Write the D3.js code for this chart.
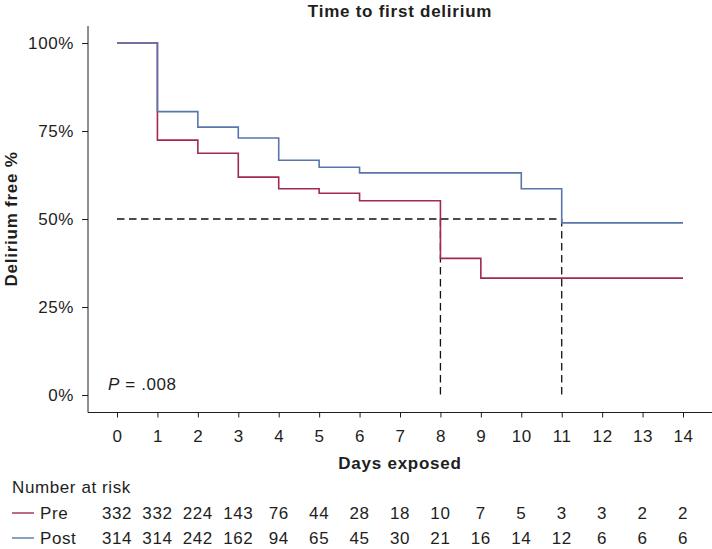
<!DOCTYPE html>
<html>
<head>
<meta charset="utf-8">
<script src="https://cdn.jsdelivr.net/npm/d3@7"></script>
<style>
  body { margin: 0; background: #fff; }
  svg { display: block; font-family: "Liberation Sans", Arial, sans-serif; }
</style>
</head>
<body>
<svg id="chart" width="712" height="549"></svg>
<script>
// days on x axis
const days = [0, 1, 2, 3, 4, 5, 6, 7, 8, 9, 10, 11, 12, 13, 14];
// survival (delirium free) per day, step after each day
const preSurv = [1.0, 0.724, 0.687, 0.619, 0.586, 0.573, 0.552, 0.552, 0.388, 0.332, 0.332, 0.332, 0.332, 0.332, 0.332];
const postSurv = [1.0, 0.805, 0.761, 0.730, 0.667, 0.647, 0.631, 0.631, 0.631, 0.631, 0.586, 0.489, 0.489, 0.489, 0.489];
const preRisk = [332, 332, 224, 143, 76, 44, 28, 18, 10, 7, 5, 3, 3, 2, 2];
const postRisk = [314, 314, 242, 162, 94, 65, 45, 30, 21, 16, 14, 12, 6, 6, 6];
const yTicks = [0, 0.25, 0.5, 0.75, 1];
const medians = [8, 11];

const preColor = "#a22a52";
const postColor = "#5876ab";
const ink = "#1e1e1e";
const fs = 17;
const ls = 0.6;   // regular letter spacing
const lsb = 0.75; // bold letter spacing

const svg = d3.select("#chart");

const x = d3.scaleLinear().domain([0, 14]).range([117, 683]);
const y = d3.scaleLinear().domain([0, 1]).range([395, 43]);

// title
svg.append("text")
  .attr("x", 400).attr("y", 17)
  .attr("text-anchor", "middle")
  .attr("font-size", fs).attr("font-weight", "bold")
  .attr("letter-spacing", lsb)
  .attr("fill", ink)
  .text("Time to first delirium");

// y axis
const yAxis = svg.append("g")
  .attr("transform", "translate(88,0)")
  .call(d3.axisLeft(y).tickValues(yTicks).tickFormat(d3.format(".0%")).tickSize(6).tickPadding(8));
yAxis.select(".domain").attr("d", "M0,26V412.5");
yAxis.selectAll("text").attr("font-size", fs).attr("letter-spacing", ls).attr("fill", ink)
  .attr("font-family", "Liberation Sans, Arial, sans-serif");
yAxis.selectAll("line, path").attr("stroke", ink);

// x axis
const xAxis = svg.append("g")
  .attr("transform", "translate(0,412.5)")
  .call(d3.axisBottom(x).tickValues(days).tickSize(5).tickPadding(12));
xAxis.select(".domain").attr("d", "M88,0H712");
xAxis.selectAll("text").attr("font-size", fs).attr("letter-spacing", ls).attr("fill", ink)
  .attr("font-family", "Liberation Sans, Arial, sans-serif");
xAxis.selectAll("line, path").attr("stroke", ink);

svg.append("text")
  .attr("x", 400).attr("y", 469)
  .attr("text-anchor", "middle")
  .attr("font-size", fs).attr("font-weight", "bold")
  .attr("letter-spacing", lsb)
  .attr("fill", ink)
  .text("Days exposed");

svg.append("text")
  .attr("transform", "translate(17,219) rotate(-90)")
  .attr("text-anchor", "middle")
  .attr("font-size", fs).attr("font-weight", "bold")
  .attr("letter-spacing", lsb)
  .attr("fill", ink)
  .text("Delirium free %");

// dashed median lines
const dash = svg.append("g")
  .attr("stroke", "#111").attr("stroke-width", 1.3)
  .attr("stroke-dasharray", "7.5,4.5").attr("fill", "none");
dash.append("line")
  .attr("x1", x(0)).attr("x2", x(d3.max(medians)))
  .attr("y1", y(0.5)).attr("y2", y(0.5));
dash.selectAll("line.v")
  .data(medians)
  .join("line")
  .attr("class", "v")
  .attr("x1", d => x(d)).attr("x2", d => x(d))
  .attr("y1", y(0.5)).attr("y2", y(0));

// step curves
const line = d3.line()
  .x((d, i) => x(days[i]))
  .y(d => y(d))
  .curve(d3.curveStepAfter);

svg.append("path")
  .datum(preSurv)
  .attr("d", line)
  .attr("fill", "none")
  .attr("stroke", preColor)
  .attr("stroke-width", 1.6);

svg.append("path")
  .datum(postSurv)
  .attr("d", line)
  .attr("fill", "none")
  .attr("stroke", postColor)
  .attr("stroke-width", 1.6);

// p value
const pv = svg.append("text")
  .attr("x", 108).attr("y", 390)
  .attr("font-size", fs).attr("letter-spacing", ls).attr("fill", ink);
pv.append("tspan").attr("font-style", "italic").text("P");
pv.append("tspan").text(" = .008");

// number at risk table
svg.append("text")
  .attr("x", 12).attr("y", 493)
  .attr("font-size", fs).attr("letter-spacing", ls).attr("fill", ink)
  .text("Number at risk");

const rows = [
  { name: "Pre", color: preColor, values: preRisk, y: 519 },
  { name: "Post", color: postColor, values: postRisk, y: 544 }
];

rows.forEach(r => {
  svg.append("line")
    .attr("x1", 12).attr("x2", 34)
    .attr("y1", r.y - 6).attr("y2", r.y - 6)
    .attr("stroke", r.color).attr("stroke-width", 1.4);
  svg.append("text")
    .attr("x", 40).attr("y", r.y)
    .attr("font-size", fs).attr("letter-spacing", ls).attr("fill", ink)
    .text(r.name);
  svg.selectAll(null)
    .data(r.values)
    .join("text")
    .attr("x", (d, i) => x(days[i]))
    .attr("y", r.y)
    .attr("text-anchor", "middle")
    .attr("font-size", fs).attr("letter-spacing", ls).attr("fill", ink)
    .text(d => d);
});
</script>
</body>
</html>
